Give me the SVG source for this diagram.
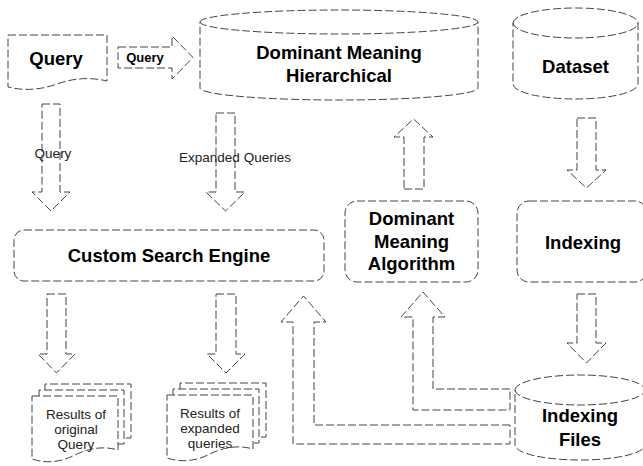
<svg xmlns="http://www.w3.org/2000/svg" width="643" height="466" viewBox="0 0 643 466">
<style>
.s{fill:#fff;stroke:#444;stroke-width:1;stroke-dasharray:8 3}
.c{fill:none;stroke:#444;stroke-width:1;stroke-dasharray:8 3}
.b{font-family:"Liberation Sans",Arial,sans-serif;font-weight:bold;font-size:18.5px;fill:#000;text-anchor:middle}
.r{font-family:"Liberation Sans",Arial,sans-serif;font-size:13.5px;fill:#222;text-anchor:middle}
.rb{font-family:"Liberation Sans",Arial,sans-serif;font-weight:bold;font-size:13px;fill:#000;text-anchor:middle}
</style>
<rect width="643" height="466" fill="#fff"/>
<g id="connectors">
<polygon class="s" points="118,47 172,47 172,36 193,57.5 172,79 172,68 118,68"/>
<text class="rb" x="145" y="62">Query</text>
<polygon class="s" points="42,104 60,104 60,192 70,192 51,211 32,192 42,192"/>
<text class="r" x="53" y="158">Query</text>
<polygon class="s" points="216,113 235,113 235,192 245,192 225.5,211 206,192 216,192"/>
<text class="r" x="235" y="162">Expanded Queries</text>
<polygon class="s" points="404,189 424,189 424,137 433,137 413.5,119 394,137 404,137"/>
<polygon class="s" points="577,118 596,118 596,170 606,170 586.5,188 567,170 577,170"/>
<polygon class="s" points="577,294 596,294 596,343 606,343 586.5,363 567,343 577,343"/>
<polygon class="s" points="47,294 66,294 66,354 75,354 56.5,373 38,354 47,354"/>
<polygon class="s" points="216,294 236,294 236,354 245,354 226,373 207,354 216,354"/>
<polygon class="s" points="510,389 433,389 433,317 445,317 423,292 401,317 413,317 413,410 510,410"/>
<polygon class="s" points="510,425 314,425 314,322 326,322 303.5,296 281,322 293,322 293,444 510,444"/>
</g>
<g id="query">
<path class="s" d="M8,35 H107 V81 Q82,75 57,84 Q32,93 8,87 Z"/>
<text class="b" x="56" y="65">Query</text>
</g>
<g id="dmh">
<path class="s" d="M200,22 A139,12 0 0 1 478,22 V88 A139,12 0 0 1 200,88 Z"/>
<path class="c" d="M200,22 A139,12 0 0 0 478,22"/>
<text class="b" x="339" y="59">Dominant Meaning</text>
<text class="b" x="339" y="82">Hierarchical</text>
</g>
<g id="dataset">
<path class="s" d="M513,23 A62.5,15 0 0 1 638,23 V84 A62.5,15 0 0 1 513,84 Z"/>
<path class="c" d="M513,23 A62.5,15 0 0 0 638,23"/>
<text class="b" x="575.5" y="73">Dataset</text>
</g>
<g id="cse">
<rect class="s" x="14" y="230" width="310" height="51" rx="10"/>
<text class="b" x="169" y="262">Custom Search Engine</text>
</g>
<g id="dma">
<rect class="s" x="345" y="201" width="133" height="81" rx="12"/>
<text class="b" x="411.5" y="225">Dominant</text>
<text class="b" x="411.5" y="248">Meaning</text>
<text class="b" x="411.5" y="270">Algorithm</text>
</g>
<g id="indexing">
<rect class="s" x="517" y="201" width="130" height="81" rx="12"/>
<text class="b" x="583" y="249">Indexing</text>
</g>
<g id="indexing-files">
<path class="s" d="M515,390 A65,15 0 0 1 645,390 V445 A65,15 0 0 1 515,445 Z"/>
<path class="c" d="M515,390 A65,15 0 0 0 645,390"/>
<text class="b" x="580" y="422">Indexing</text>
<text class="b" x="580" y="446">Files</text>
</g>
<g id="results-original">
<path class="c" d="M45,390 V384 H131 V438 H124"/>
<path class="c" d="M39,396 V390 H124 V444 H118"/>
<path class="s" d="M32,396 H118 V450 Q97,444 75,455 Q53,466 32,459 Z"/>
<text class="r" x="76" y="419">Results of</text>
<text class="r" x="76" y="434">original</text>
<text class="r" x="76" y="449">Query</text>
</g>
<g id="results-expanded">
<path class="c" d="M180,389 V383 H266 V437 H259"/>
<path class="c" d="M173,395 V389 H259 V443 H253"/>
<path class="s" d="M167,395 H253 V449 Q232,443 210,454 Q188,465 167,458 Z"/>
<text class="r" x="210" y="418">Results of</text>
<text class="r" x="210" y="433">expanded</text>
<text class="r" x="210" y="448">queries</text>
</g>
</svg>
